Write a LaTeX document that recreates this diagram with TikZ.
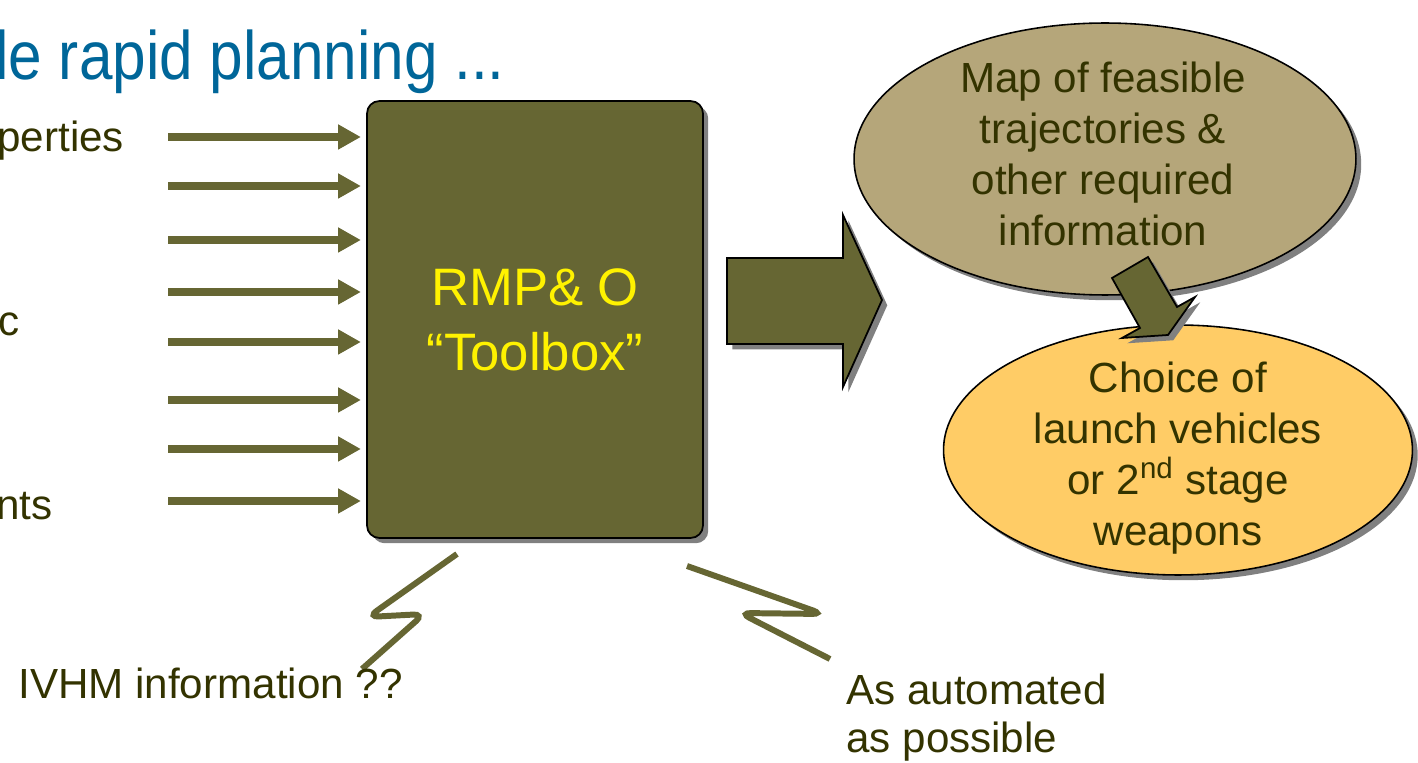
\documentclass[tikz,border=0pt]{standalone}
\usepackage{fontspec}
\setmainfont{Liberation Sans}
\newfontfamily\titlefont[FakeStretch=0.88]{Liberation Sans}
\usetikzlibrary{arrows.meta,shapes.geometric,shadows}
\definecolor{rmpolive}{HTML}{666633}
\definecolor{rmptan}{HTML}{B5A67A}
\definecolor{rmpgold}{HTML}{FFCC66}
\definecolor{rmpdark}{HTML}{333300}
\definecolor{rmpblue}{HTML}{006699}
\tikzset{
  txt/.style={text=rmpdark, inner sep=0pt, font=\fontsize{24}{29}\selectfont},
  feed/.style={rmpolive, line width=4.5pt, -{Triangle[length=13pt,width=13.5pt]}, shorten >=3pt},
  shade/.style={drop shadow={shadow xshift=3pt, shadow yshift=-3pt, fill=black!50, opacity=1}},
  bubble/.style={ellipse, draw=black, line width=0.9pt, inner sep=0pt, shade},
  jag/.style={rmpolive, line width=3.4pt, rounded corners=6pt}
}
\begin{document}
\begin{tikzpicture}[x=0.02cm, y=-0.02cm]
\useasboundingbox (0,0) rectangle (1418,763);
\node [anchor=base west, inner sep=0pt, text=rmpblue, font=\titlefont\fontsize{39}{44}\selectfont] (title) at (-5,80) {le rapid planning ...};
\node [txt, anchor=base west] (props) at (-3,152) {perties};
\node [txt, anchor=base west] (mid) at (-2,336) {c};
\node [txt, anchor=base west] (ends) at (-4,520) {nts};
\node [draw=black, line width=1pt, fill=rmpolive, rounded corners=7pt, shade, minimum width=6.72cm, minimum height=8.74cm, inner sep=0pt,
       text=yellow, align=center, font=\fontsize{30}{37}\selectfont] (tool) at (535,319.5) {RMP\& O\\“Toolbox”};
\foreach \y [count=\i] in {137,186,240,292,342,400,449,501}
  {\coordinate (in\i) at (168,\y);
   \draw [feed] (in\i) -- (in\i -| tool.west);}
\filldraw [fill=rmpolive, draw=black, line width=1pt, shade] (727,258) -- (843,258) -- (843,215) -- (882,300) -- (843,387) -- (843,344) -- (727,344) -- cycle;
\node [bubble, fill=rmptan, minimum width=10.04cm, minimum height=5.44cm] (map) at (1105,159) {};
\node [txt, align=center] (maptext) at (1103,154) {Map of feasible\\trajectories \&\\other required\\information};
\node [bubble, fill=rmpgold, minimum width=9.38cm, minimum height=5cm] (choice) at (1178,450) {};
\node [txt, align=center] (choicetext) at (1178,458) {Choice of\\launch vehicles\\or 2\textsuperscript{nd} stage\\weapons};
\filldraw [fill=rmpolive, draw=black, line width=1pt, shade] (1112,278) -- (1148,257) -- (1177,307) -- (1195,297) -- (1168,335) -- (1122,338) -- (1140,328) -- cycle;
\draw [jag] (457,554) -- (368,617) -- (424,614) -- (362,669);
\draw [jag] (687,566) -- (823,614) -- (740,613) -- (830,659);
\node [txt, anchor=base west] (ivhm) at (18,699) {IVHM information ??};
\node [txt, anchor=north west, align=left, font=\fontsize{24}{27}\selectfont] (auto) at (846,674) {As automated\\as possible};
\end{tikzpicture}
\end{document}
